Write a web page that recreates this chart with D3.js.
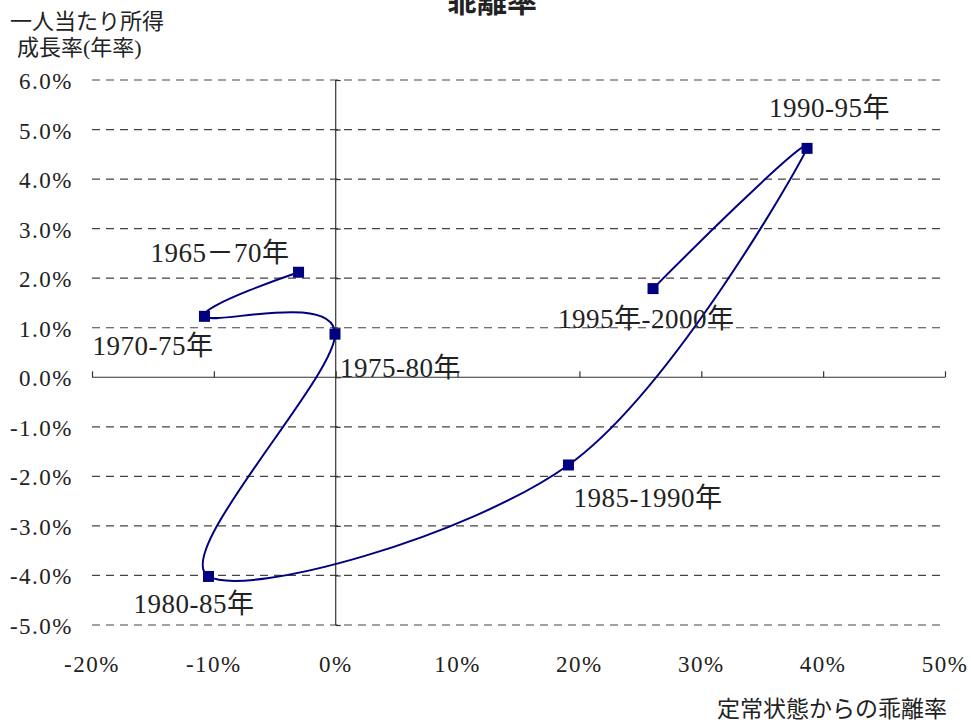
<!DOCTYPE html>
<html>
<head>
<meta charset="utf-8">
<script src="https://cdn.jsdelivr.net/npm/d3@7"></script>
<style>
  html, body { margin: 0; padding: 0; background: #fff; }
  svg text { font-family: "Liberation Serif", "Noto Sans CJK JP", serif; fill: #222; }
</style>
</head>
<body>
<svg id="chart" width="971" height="722"></svg>
<script>
// Periods, deviation from steady state (%), per-capita income growth (%)
const periods = ["1965－70年", "1970-75年", "1975-80年", "1980-85年", "1985-1990年", "1990-95年", "1995年-2000年"];
const deviation = [-3.05, -10.77, -0.06, -10.44, 19.1, 38.68, 26.04];
const growth = [2.12, 1.23, 0.87, -4.02, -1.77, 4.62, 1.79];
const xTicks = [-20, -10, 0, 10, 20, 30, 40, 50];
const yTicks = [-5, -4, -3, -2, -1, 0, 1, 2, 3, 4, 5, 6];
// Label offsets (dx, dy) for each period label, relative to its point
const labelOffsets = [[-148, -10], [-112, 39], [5, 43], [-75, 37], [5, 42], [-38, -31], [-95, 39]];

const svg = d3.select("#chart");
const x = d3.scaleLinear().domain([-20, 50]).range([92, 945]);
const y = d3.scaleLinear().domain([-5, 6]).range([625, 80]);

// Title (partly above the page edge)
svg.append("text").attr("x", 492).attr("y", 12).attr("text-anchor", "middle")
  .style("font-size", "30px").style("font-weight", "bold").text("乖離率");

// Y axis title
svg.append("text").attr("x", 10).attr("y", 29).style("font-size", "22px").text("一人当たり所得");
svg.append("text").attr("x", 17).attr("y", 55).style("font-size", "22px").text("成長率(年率)");

// Horizontal dashed gridlines
svg.append("g").selectAll("line").data(yTicks.filter(d => d !== 0)).join("line")
  .attr("x1", x(-20)).attr("x2", x(50))
  .attr("y1", d => y(d)).attr("y2", d => y(d))
  .attr("stroke", "#444").attr("stroke-width", 1.2).attr("stroke-dasharray", "8,6");

// Y tick labels
svg.append("g").selectAll("text").data(yTicks).join("text")
  .attr("x", 73).attr("y", d => y(d) + 9).attr("text-anchor", "end")
  .style("font-size", "23px").style("letter-spacing", "1.5px")
  .text(d => d.toFixed(1) + "%");

// Vertical axis at 0% with ticks to the right
const yAxis = d3.axisRight(y).tickValues(yTicks).tickSize(5).tickFormat("");
svg.append("g").attr("transform", `translate(${x(0)},0)`).call(yAxis)
  .call(g => g.selectAll("path, line").attr("stroke", "#333").attr("stroke-width", 1.2))
  .call(g => g.select(".domain").attr("d", `M0,${y(6)}V${y(-5)}`));

// Horizontal axis at 0 with ticks upward
const xAxis = d3.axisTop(x).tickValues(xTicks).tickSize(6).tickFormat("");
svg.append("g").attr("transform", `translate(0,${y(0)})`).call(xAxis)
  .call(g => g.selectAll("path, line").attr("stroke", "#333").attr("stroke-width", 1.2))
  .call(g => g.select(".domain").attr("d", `M${x(-20)},0H${x(50)}`));

// X tick labels below the plot
svg.append("g").selectAll("text").data(xTicks).join("text")
  .attr("x", d => x(d)).attr("y", 672).attr("text-anchor", "middle")
  .style("font-size", "23px").style("letter-spacing", "1.5px")
  .text(d => d + "%");

// X axis title
svg.append("text").attr("x", 947).attr("y", 717).attr("text-anchor", "end")
  .style("font-size", "23px").text("定常状態からの乖離率");

// Smoothed trajectory
const pts = deviation.map((d, i) => [x(d), y(growth[i])]);
svg.append("path").datum(pts)
  .attr("d", d3.line().curve(d3.curveCatmullRom.alpha(0)))
  .attr("fill", "none").attr("stroke", "#000080").attr("stroke-width", 2);

// Markers
svg.append("g").selectAll("rect").data(pts).join("rect")
  .attr("x", d => d[0] - 5.5).attr("y", d => d[1] - 5.5)
  .attr("width", 11).attr("height", 11).attr("fill", "#000080");

// Period labels
svg.append("g").selectAll("text").data(periods).join("text")
  .attr("x", (d, i) => pts[i][0] + labelOffsets[i][0])
  .attr("y", (d, i) => pts[i][1] + labelOffsets[i][1])
  .style("font-size", "27px").style("letter-spacing", "0.5px").text(d => d);
</script>
</body>
</html>
